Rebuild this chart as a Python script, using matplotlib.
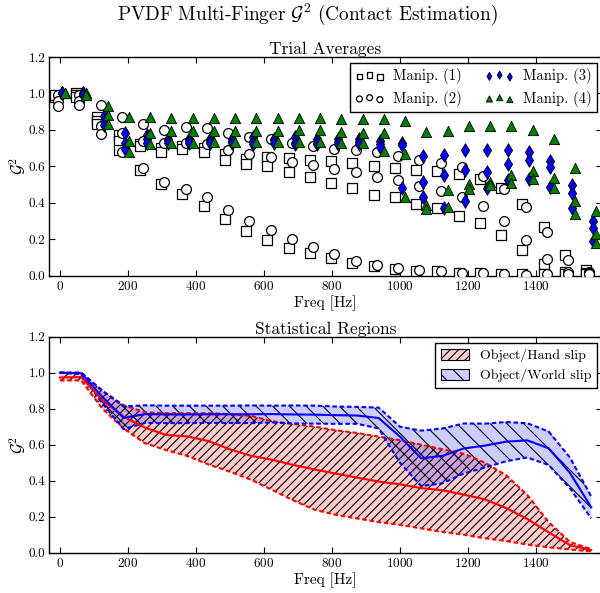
import matplotlib
matplotlib.use('Agg')
import matplotlib.pyplot as plt
from matplotlib.patches import Patch

plt.rcParams.update({
    'font.family': 'serif',
    'font.serif': ['cmr10'],
    'mathtext.fontset': 'cm',
    'axes.formatter.use_mathtext': True,
    'axes.unicode_minus': False,
    'hatch.linewidth': 0.8,
})

# ---------------- data ----------------
freq = [0, 62.5, 125, 187.5, 250, 312.5, 375, 437.5, 500, 562.5, 625, 687.5, 750,
        812.5, 875, 937.5, 1000, 1062.5, 1125, 1187.5, 1250, 1312.5, 1375, 1437.5,
        1500, 1562.5]

manip1_a = [0.99, 1.00, 0.87, 0.77, 0.72, 0.70, 0.71, 0.70, 0.67, 0.64, 0.65, 0.645, 0.636,
            0.63, 0.616, 0.60, 0.59, 0.58, 0.575, 0.557, 0.53, 0.48, 0.394, 0.267, 0.11, 0.03]
manip1_b = [0.98, 0.99, 0.85, 0.74, 0.71, 0.68, 0.695, 0.68, 0.635, 0.61, 0.60, 0.57, 0.54,
            0.51, 0.48, 0.443, 0.43, 0.394, 0.372, 0.326, 0.29, 0.22, 0.142, 0.063, 0.018, 0.013]
manip1_c = [0.99, 0.98, 0.83, 0.69, 0.58, 0.50, 0.446, 0.38, 0.31, 0.245, 0.195, 0.15, 0.123,
            0.096, 0.068, 0.05, 0.037, 0.026, 0.022, 0.013, 0.013, 0.007, 0.007, 0.007, 0.007, 0.007]

manip2_a = [0.99, 0.99, 0.935, 0.87, 0.83, 0.80, 0.815, 0.81, 0.78, 0.763, 0.75, 0.73, 0.713,
            0.695, 0.69, 0.676, 0.658, 0.634, 0.62, 0.597, 0.548, 0.474, 0.376, 0.24, 0.087, 0.018]
manip2_b = [0.96, 0.96, 0.82, 0.78, 0.74, 0.73, 0.73, 0.72, 0.69, 0.67, 0.65, 0.625, 0.607,
            0.585, 0.566, 0.54, 0.524, 0.49, 0.465, 0.43, 0.38, 0.30, 0.197, 0.092, 0.02, 0.013]
manip2_c = [0.93, 0.935, 0.775, 0.68, 0.59, 0.515, 0.477, 0.43, 0.36, 0.30, 0.25, 0.20, 0.155,
            0.118, 0.081, 0.059, 0.04, 0.03, 0.026, 0.013, 0.013, 0.007, 0.003, 0.007, 0.007, 0.007]

manip3_a = [1.0, 1.0, 0.874, 0.78, 0.77, 0.75, 0.75, 0.75, 0.75, 0.76, 0.75, 0.76, 0.75,
            0.75, 0.75, 0.74, 0.726, 0.658, 0.664, 0.69, 0.69, 0.69, 0.676, 0.63, 0.498, 0.30]
manip3_b = [1.0, 1.0, 0.85, 0.73, 0.75, 0.74, 0.74, 0.74, 0.74, 0.74, 0.745, 0.73, 0.73,
            0.735, 0.735, 0.72, 0.715, 0.516, 0.553, 0.579, 0.566, 0.61, 0.634, 0.597, 0.455, 0.26]
manip3_c = [1.0, 0.99, 0.824, 0.695, 0.73, 0.73, 0.73, 0.73, 0.73, 0.72, 0.73, 0.72, 0.72,
            0.72, 0.72, 0.704, 0.483, 0.43, 0.372, 0.41, 0.48, 0.524, 0.53, 0.487, 0.369, 0.19]

manip4_a = [1.0, 1.0, 0.93, 0.87, 0.87, 0.865, 0.865, 0.865, 0.865, 0.865, 0.865, 0.865, 0.865,
            0.86, 0.86, 0.86, 0.846, 0.79, 0.796, 0.82, 0.82, 0.82, 0.80, 0.75, 0.593, 0.354]
manip4_b = [1.0, 1.0, 0.88, 0.74, 0.78, 0.795, 0.795, 0.795, 0.795, 0.795, 0.795, 0.80, 0.80,
            0.787, 0.78, 0.78, 0.667, 0.387, 0.468, 0.50, 0.516, 0.55, 0.575, 0.538, 0.41, 0.23]
manip4_c = [1.0, 0.99, 0.83, 0.68, 0.72, 0.73, 0.73, 0.735, 0.735, 0.735, 0.735, 0.735, 0.735,
            0.73, 0.73, 0.686, 0.43, 0.363, 0.376, 0.474, 0.498, 0.51, 0.53, 0.48, 0.336, 0.18]

manip_labels = ['Manip. (1)', 'Manip. (2)', 'Manip. (3)', 'Manip. (4)']

hand_mean = [0.973, 0.976, 0.847, 0.755, 0.695, 0.654, 0.646, 0.62, 0.574, 0.538, 0.516, 0.487,
             0.462, 0.439, 0.417, 0.395, 0.38, 0.359, 0.347, 0.323, 0.296, 0.248, 0.187, 0.113,
             0.042, 0.015]
hand_hi = [1.0, 1.0, 0.90, 0.82, 0.78, 0.775, 0.775, 0.775, 0.77, 0.76, 0.73, 0.715, 0.70, 0.68,
           0.665, 0.645, 0.625, 0.60, 0.575, 0.55, 0.50, 0.43, 0.32, 0.17, 0.06, 0.02]
hand_lo = [0.957, 0.957, 0.80, 0.69, 0.608, 0.57, 0.537, 0.49, 0.45, 0.405, 0.348, 0.29, 0.238,
           0.21, 0.19, 0.17, 0.155, 0.135, 0.115, 0.10, 0.08, 0.065, 0.045, 0.03, 0.018, 0.007]

world_mean = [1.0, 0.997, 0.865, 0.749, 0.77, 0.768, 0.768, 0.769, 0.769, 0.769, 0.77, 0.768,
              0.767, 0.764, 0.762, 0.748, 0.645, 0.524, 0.538, 0.579, 0.595, 0.617, 0.624, 0.58,
              0.444, 0.252]
world_hi = [1.0, 1.0, 0.90, 0.812, 0.819, 0.817, 0.817, 0.817, 0.817, 0.818, 0.817, 0.818, 0.817,
            0.812, 0.81, 0.806, 0.70, 0.678, 0.69, 0.718, 0.717, 0.726, 0.719, 0.673, 0.529, 0.313]
world_lo = [1.0, 0.992, 0.829, 0.686, 0.721, 0.72, 0.72, 0.721, 0.721, 0.72, 0.723, 0.718, 0.717,
            0.716, 0.716, 0.69, 0.50, 0.37, 0.385, 0.44, 0.473, 0.508, 0.529, 0.487, 0.358, 0.191]

region_labels = ['Object/Hand slip', 'Object/World slip']

# ---------------- style ----------------
offsets = [-15, -5, 5, 15]
styles = [
    dict(marker='s', s=42, facecolors='white', edgecolors='black', linewidths=0.9),
    dict(marker='o', s=50, facecolors='white', edgecolors='black', linewidths=0.9),
    dict(marker='d', s=48, facecolors='blue', edgecolors='black', linewidths=0.6),
    dict(marker='^', s=55, facecolors='green', edgecolors='black', linewidths=0.6),
]

fig = plt.figure(figsize=(6.0, 5.93), dpi=100)
W, H = 600.0, 593.0
xl = (-31.25, 1593.75)
axw = (xl[1] - xl[0]) * 0.34 / W
ax1 = fig.add_axes([49.3 / W, (H - 275.5) / H, axw, 218.5 / H])
ax2 = fig.add_axes([49.3 / W, (H - 552.7) / H, axw, 216.0 / H])

manips = [(manip1_a, manip1_b, manip1_c), (manip2_a, manip2_b, manip2_c),
          (manip3_a, manip3_b, manip3_c), (manip4_a, manip4_b, manip4_c)]
for i, trials in enumerate(manips):
    xs = [f + offsets[i] for f in freq]
    for j, vals in enumerate(trials):
        ax1.scatter(xs, vals, label=manip_labels[i] if j == 0 else None,
                    zorder=3 + i, **styles[i])

leg1 = ax1.legend(loc='upper right', ncol=2, scatterpoints=3,
                  scatteryoffsets=[0.375, 0.5, 0.3125], markerscale=0.6,
                  fontsize=10.5, fancybox=False, edgecolor='black', framealpha=1,
                  borderpad=0.35, columnspacing=1.6, handletextpad=0.6,
                  labelspacing=0.45, borderaxespad=0.0,
                  bbox_to_anchor=(0.991, 0.972))
leg1.get_frame().set_linewidth(1.0)

# bottom panel
red_fc = (1.0, 0.0, 0.0, 0.2)
blue_fc = (0.0, 0.0, 1.0, 0.2)
ax2.fill_between(freq, hand_lo, hand_hi, facecolor=red_fc, edgecolor='black',
                 linewidth=0, hatch='////', zorder=2)
ax2.fill_between(freq, world_lo, world_hi, facecolor=blue_fc, edgecolor='black',
                 linewidth=0, hatch='\\\\', zorder=2)
for lo, hi, mean, c in [(hand_lo, hand_hi, hand_mean, 'red'),
                        (world_lo, world_hi, world_mean, 'blue')]:
    ax2.plot(freq, lo, color=c, lw=1.5, dashes=(2.2, 1.3), zorder=3)
    ax2.plot(freq, hi, color=c, lw=1.5, dashes=(2.2, 1.3), zorder=3)
    ax2.plot(freq, mean, color=c, lw=1.5, zorder=4)

handles = [Patch(facecolor=red_fc, edgecolor='black', hatch='////', lw=0.8),
           Patch(facecolor=blue_fc, edgecolor='black', hatch='\\\\', lw=0.8)]
leg2 = ax2.legend(handles, region_labels, loc='upper right', fontsize=10, fancybox=False,
                  edgecolor='black', framealpha=1, borderpad=0.4, handletextpad=0.8,
                  labelspacing=0.45, handlelength=2.0, handleheight=0.9,
                  borderaxespad=0.0, bbox_to_anchor=(0.991, 0.97))
leg2.get_frame().set_linewidth(1.0)

for ax, title in [(ax1, 'Trial Averages'), (ax2, 'Statistical Regions')]:
    ax.set_xlim(*xl)
    ax.set_ylim(0, 1.2)
    ax.set_xticks([0, 200, 400, 600, 800, 1000, 1200, 1400])
    ax.set_yticks([0.0, 0.2, 0.4, 0.6, 0.8, 1.0, 1.2])
    ax.set_yticklabels(['0.0', '0.2', '0.4', '0.6', '0.8', '1.0', '1.2'])
    ax.tick_params(direction='in', top=True, right=True, length=4, width=0.8,
                   labelsize=9.5, pad=3)
    for sp in ax.spines.values():
        sp.set_linewidth(1.0)
    ax.set_xlabel('Freq [Hz]', fontsize=11, labelpad=2)
    ax.set_ylabel(r'$\mathcal{G}^2$', fontsize=12, labelpad=0)
    ax.set_title(title, fontsize=12.5, pad=2)

fig.suptitle(r'PVDF Multi-Finger $\mathcal{G}^2$ (Contact Estimation)', fontsize=13.8,
             x=0.512, y=0.997)

fig.savefig('out.png', dpi=100)
